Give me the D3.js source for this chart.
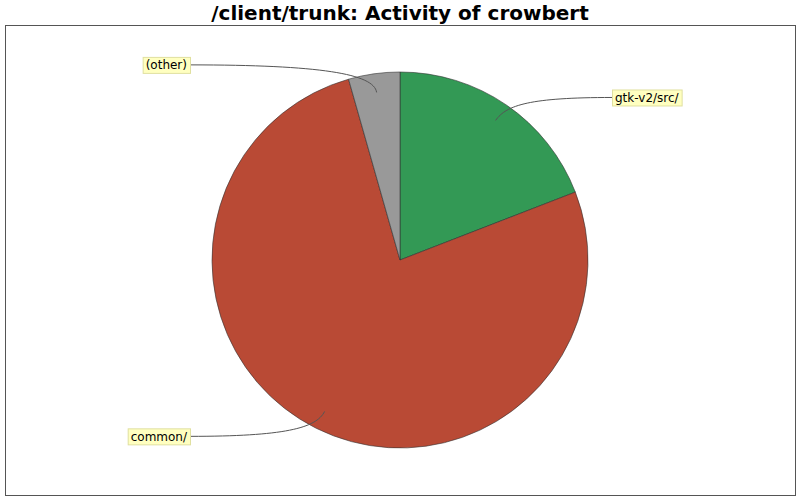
<!DOCTYPE html>
<html>
<head>
<meta charset="utf-8">
<script src="https://cdn.jsdelivr.net/npm/d3@7"></script>
<style>
  body { margin: 0; background: #fff; }
  svg { display: block; }
</style>
</head>
<body>
<div id="chart"></div>
<script>
var title = "/client/trunk: Activity of crowbert";
var dirs = ["gtk-v2/src/", "common/", "(other)"];
var commits = [13, 52, 3];
var colors = ["#339955", "#b94a35", "#999999"];

var width = 800, height = 500;
var cx = 400, cy = 260, r = 188;

var svg = d3.select("#chart").append("svg")
    .attr("width", width)
    .attr("height", height);

svg.append("rect")
    .attr("width", width).attr("height", height)
    .attr("fill", "#fff");

// plot frame
svg.append("rect")
    .attr("x", 5.5).attr("y", 25.5)
    .attr("width", 790).attr("height", 470)
    .attr("fill", "none")
    .attr("stroke", "#555");

svg.append("text")
    .attr("x", width / 2).attr("y", 20)
    .attr("text-anchor", "middle")
    .attr("font-family", "DejaVu Sans")
    .attr("font-weight", "bold")
    .attr("font-size", 20)
    .text(title);

var pie = d3.pie().sort(null).value(d => d);
var arcs = pie(commits);

var arc = d3.arc().innerRadius(0).outerRadius(r);

var g = svg.append("g").attr("transform", "translate(" + cx + "," + cy + ")");

g.selectAll("path.slice")
    .data(arcs)
    .enter().append("path")
    .attr("class", "slice")
    .attr("d", arc)
    .attr("fill", (d, i) => colors[i])
    .attr("stroke", "#333")
    .attr("stroke-width", 0.6);

// labels with curved link lines
arcs.forEach(function (d, i) {
    var a = (d.startAngle + d.endAngle) / 2;
    var right = Math.sin(a) > 0;
    var ax = Math.sin(a) * r * 0.9, ay = -Math.cos(a) * r * 0.9;
    var ly = -Math.cos(a) * 197;
    var lx = right ? 212 : -210;
    var c1x = Math.sin(a) * r * 1.0, c1y = -Math.cos(a) * r * 1.0;
    var c2x = lx + (ax - lx) * 0.7, c2y = ly;

    var p = d3.path();
    p.moveTo(ax, ay);
    p.bezierCurveTo(c1x, c1y, c2x, c2y, lx, ly);
    g.append("path")
        .attr("d", p.toString())
        .attr("fill", "none")
        .attr("stroke", "#555")
        .attr("stroke-width", 1);

    var lg = g.append("g");
    var t = lg.append("text")
        .attr("font-family", "DejaVu Sans")
        .attr("font-size", 12)
        .attr("y", ly + 4.5)
        .text(dirs[i]);
    var w = t.node().getComputedTextLength();
    var tx = right ? lx + 3 : lx - 3 - w;
    t.attr("x", tx);
    lg.insert("rect", "text")
        .attr("x", tx - 3 + 0.5)
        .attr("y", ly - 8 + 0.5)
        .attr("width", w + 6)
        .attr("height", 16)
        .attr("fill", "#ffffc0")
        .attr("stroke", "#e0e0a0");
});
</script>
</body>
</html>
